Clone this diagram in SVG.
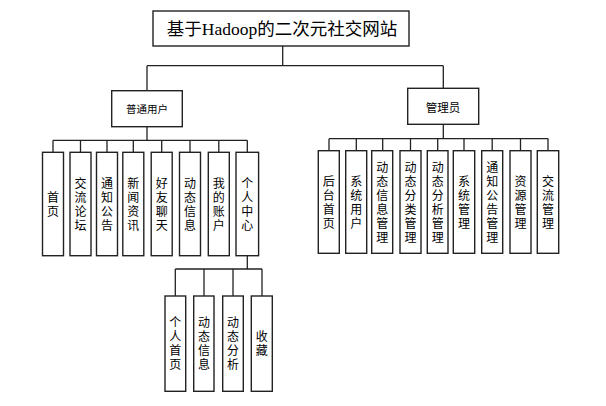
<svg xmlns="http://www.w3.org/2000/svg" width="606" height="406" viewBox="0 0 606 406">
<style>
.box{fill:#fff;stroke:#222;stroke-width:1.4}
.ln{fill:none;stroke:#222;stroke-width:1.3}
.t{font-family:"Liberation Serif","Noto Sans CJK SC",serif;font-size:17.5px;fill:#000;text-anchor:middle;dominant-baseline:central}
.h{font-family:"Noto Sans CJK SC",sans-serif;fill:#000;text-anchor:middle;dominant-baseline:central}
.v{font-family:"Noto Sans CJK SC",sans-serif;font-size:12px;fill:#000;text-anchor:middle;writing-mode:vertical-rl;text-orientation:upright;letter-spacing:2px}
</style>
<rect width="606" height="406" fill="#fff"/>
<g id="connectors">
<path class="ln" d="M282.7,46V65.7M147,65.7H443.3M147,65.7V90.7M443.3,65.7V88.3"/>
<path class="ln" d="M147,126.7V140.3M53,140.3H247.3M53,140.3V152.3M80.5,140.3V152.3M107,140.3V152.3M133.3,140.3V152.3M161.7,140.3V152.3M190,140.3V152.3M218.8,140.3V152.3M247.3,140.3V152.3"/>
<path class="ln" d="M247.3,255.7V269M175.3,269H262M175.3,269V296M204,269V296M233,269V296M262,269V296"/>
<path class="ln" d="M443.3,124.3V138.7M329,138.7H548.3M329,138.7V150.7M356.3,138.7V150.7M382.7,138.7V150.7M410.5,138.7V150.7M437.7,138.7V150.7M464,138.7V150.7M492.2,138.7V150.7M520.5,138.7V150.7M548,138.7V150.7"/>
</g>
<g id="root"><rect class="box" x="153" y="11" width="256" height="35"/><text class="t" x="282" y="29">基于Hadoop的二次元社交网站</text></g>
<g id="user"><rect class="box" x="111.7" y="90.7" width="70.6" height="36"/><text class="h" x="147" y="108.5" font-size="10.5">普通用户</text></g>
<g id="admin"><rect class="box" x="407.7" y="88.3" width="71" height="36"/><text class="h" x="443" y="106.5" font-size="11.5">管理员</text></g>

<g id="u1"><rect class="box" x="42.5" y="152.3" width="21" height="103.4"/><text class="v" x="53" y="205">首页</text></g>
<g id="u2"><rect class="box" x="70" y="152.3" width="21" height="103.4"/><text class="v" x="80.5" y="205">交流论坛</text></g>
<g id="u3"><rect class="box" x="96.5" y="152.3" width="21" height="103.4"/><text class="v" x="107" y="205">通知公告</text></g>
<g id="u4"><rect class="box" x="122.8" y="152.3" width="21" height="103.4"/><text class="v" x="133.3" y="205">新闻资讯</text></g>
<g id="u5"><rect class="box" x="151.2" y="152.3" width="21" height="103.4"/><text class="v" x="161.7" y="205">好友聊天</text></g>
<g id="u6"><rect class="box" x="179.5" y="152.3" width="21" height="103.4"/><text class="v" x="190" y="205">动态信息</text></g>
<g id="u7"><rect class="box" x="208.3" y="152.3" width="21" height="103.4"/><text class="v" x="218.8" y="205">我的账户</text></g>
<g id="u8"><rect class="box" x="236" y="152.3" width="22.6" height="103.4"/><text class="v" x="247.3" y="205">个人中心</text></g>

<g id="s1"><rect class="box" x="165" y="296" width="20.7" height="95.3"/><text class="v" x="175.3" y="344.7">个人首页</text></g>
<g id="s2"><rect class="box" x="193.7" y="296" width="20.3" height="95.3"/><text class="v" x="204" y="344.7">动态信息</text></g>
<g id="s3"><rect class="box" x="222.7" y="296" width="20.6" height="95.3"/><text class="v" x="233" y="344.7">动态分析</text></g>
<g id="s4"><rect class="box" x="251.3" y="296" width="21" height="95.3"/><text class="v" x="261.8" y="344.7">收藏</text></g>

<g id="a1"><rect class="box" x="318.3" y="150.7" width="21" height="102.6"/><text class="v" x="328.8" y="203">后台首页</text></g>
<g id="a2"><rect class="box" x="345.7" y="150.7" width="21" height="102.6"/><text class="v" x="356.2" y="203">系统用户</text></g>
<g id="a3"><rect class="box" x="371.7" y="150.7" width="21" height="102.6"/><text class="v" x="382.2" y="203">动态信息管理</text></g>
<g id="a4"><rect class="box" x="400" y="150.7" width="21" height="102.6"/><text class="v" x="410.5" y="203">动态分类管理</text></g>
<g id="a5"><rect class="box" x="427.3" y="150.7" width="20.7" height="102.6"/><text class="v" x="437.7" y="203">动态分析管理</text></g>
<g id="a6"><rect class="box" x="453.3" y="150.7" width="21.4" height="102.6"/><text class="v" x="464" y="203">系统管理</text></g>
<g id="a7"><rect class="box" x="481.7" y="150.7" width="21" height="102.6"/><text class="v" x="492.2" y="203">通知公告管理</text></g>
<g id="a8"><rect class="box" x="510" y="150.7" width="21" height="102.6"/><text class="v" x="520.5" y="203">资源管理</text></g>
<g id="a9"><rect class="box" x="537.3" y="150.7" width="21.4" height="102.6"/><text class="v" x="548" y="203">交流管理</text></g>
</svg>
